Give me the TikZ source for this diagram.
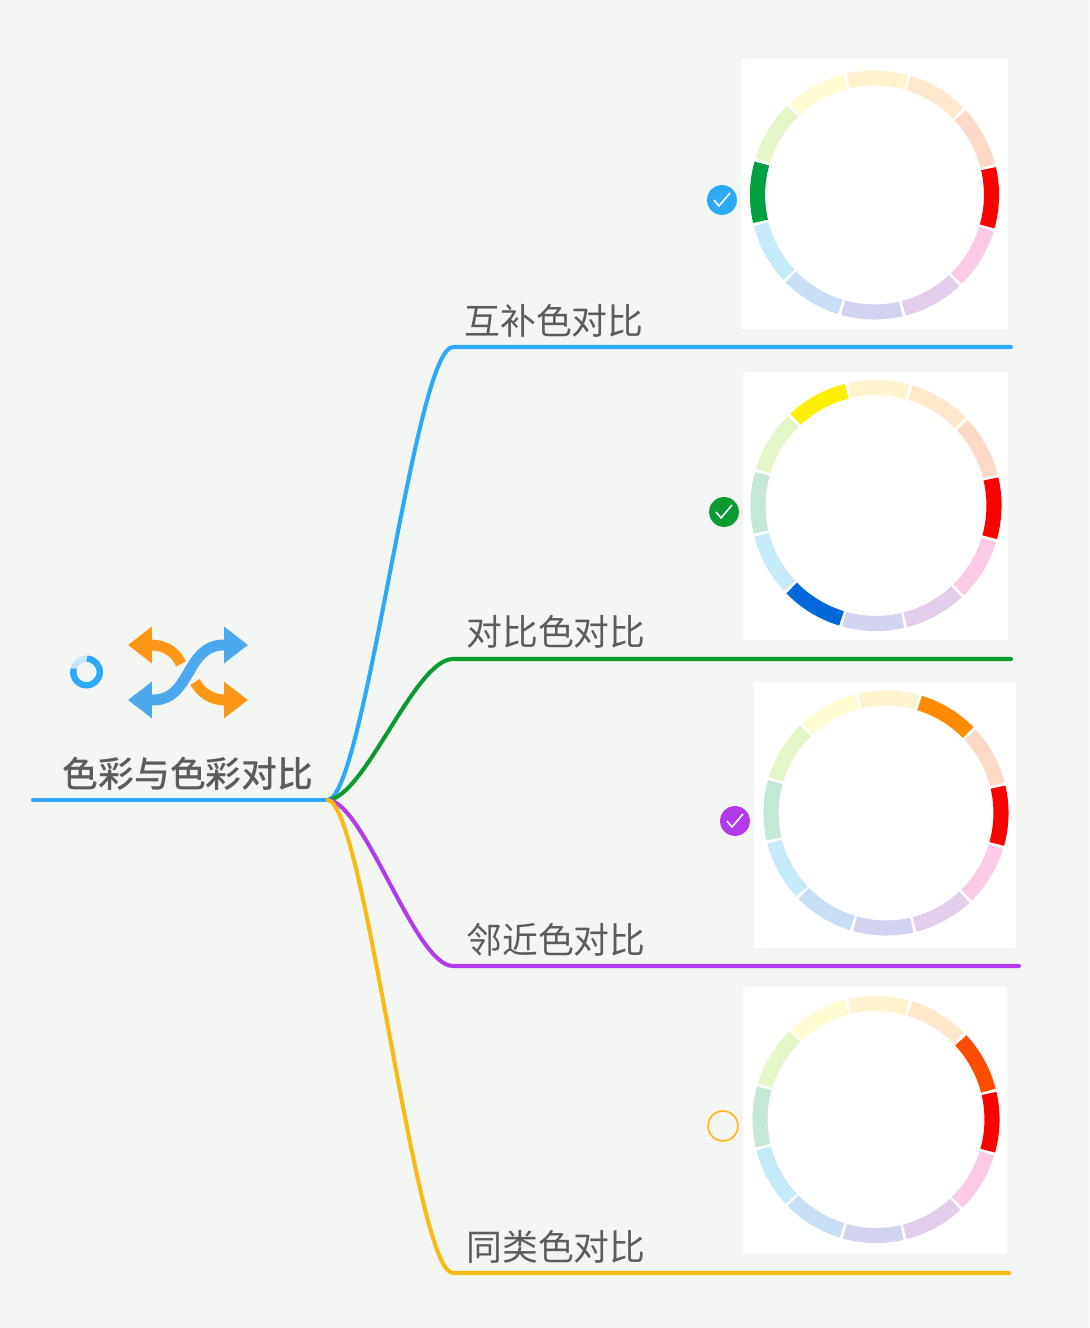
\documentclass[tikz,border=0pt]{standalone}
\usepackage{xcolor}
\usepackage{fontspec}
\setmainfont{Noto Sans CJK SC}
\newfontfamily\rootfont{Noto Sans CJK SC Medium}
\usepackage{tikz}
\usetikzlibrary{arrows.meta, positioning}

\definecolor{pagebg}{HTML}{F4F6F3}
\definecolor{labelgray}{HTML}{5C5C5C}
\definecolor{lineblue}{HTML}{2CA9F8}
\definecolor{linegreen}{HTML}{0A9A32}
\definecolor{linepurple}{HTML}{B13AEB}
\definecolor{lineyellow}{HTML}{FDB913}
\definecolor{iconorange}{HTML}{FF9716}
\definecolor{iconblue}{HTML}{4CA9EE}
\definecolor{ringpale}{HTML}{C9E6F9}
\definecolor{segA}{HTML}{FFF3D0}
\definecolor{segB}{HTML}{FFE8CC}
\definecolor{segC}{HTML}{FFD9C8}
\definecolor{segD}{HTML}{FF0000}
\definecolor{segE}{HTML}{FBCBE6}
\definecolor{segF}{HTML}{E2CEEA}
\definecolor{segG}{HTML}{D2D3EF}
\definecolor{segH}{HTML}{C8DEF5}
\definecolor{segI}{HTML}{C5EAF8}
\definecolor{segJ}{HTML}{C4E8D6}
\definecolor{segK}{HTML}{E5F7C8}
\definecolor{segL}{HTML}{FFFCD2}
\definecolor{hotgreen}{HTML}{00A040}
\definecolor{hotyellow}{HTML}{FFEE00}
\definecolor{hotblue}{HTML}{0068D8}
\definecolor{hotorange}{HTML}{FF8C00}
\definecolor{hotred}{HTML}{FF4D00}

% x, y, radius, then the segments that stand out
\newcommand{\colorwheel}[4]{
    \begin{scope}[shift={(#1,#2)}, rotate=-1.3]
    \foreach \ang/\col in {90/segA, 60/segB, 30/segC, 0/segD, -30/segE, -60/segF,
        -90/segG, -120/segH, -150/segI, 180/segJ, 150/segK, 120/segL, #4}
        \draw[wheelseg, \col] (\ang-14.3:#3) arc (\ang-14.3:\ang+14.3:#3);
    \end{scope}
}

\begin{document}
\begin{tikzpicture}[
        x=0.02cm, y=0.02cm,
        wheelseg/.style={line width=8.6pt},
        branch/.style={line width=2.3pt, line cap=round},
        title/.style={text=labelgray, inner sep=0pt, font=\fontsize{20.4}{24}\selectfont},
        badge/.style={circle, inner sep=0pt, minimum size=17pt},
        tick/.style={draw=white, line width=0.9pt},
        shaft/.style={line width=6.2pt},
        headtip/.style={-{Triangle[length=13.6pt, width=20pt]}},
        twotips/.style={{Triangle[length=13.6pt, width=20pt]}-{Triangle[length=13.6pt, width=20pt]}}
    ]
    \useasboundingbox[fill=pagebg] (0,0) rectangle (1089,1328);

    % white cards
    \fill[white] (741,999) rectangle (1008,1269);
    \fill[white] (743,688) rectangle (1008,956);
    \fill[white] (754,380) rectangle (1016,646);
    \fill[white] (743,74) rectangle (1007,341);

    % wheels
    \colorwheel{874.5}{1133}{117}{180/hotgreen}
    \colorwheel{876}{822.5}{118}{120/hotyellow, -120/hotblue}
    \colorwheel{886}{515}{115}{60/hotorange}
    \colorwheel{876}{208.5}{116}{30/hotred}

    % tree
    \coordinate (start) at (33,528);
    \coordinate (hub) at (328,528);
    \coordinate (bendA) at (453,981);
    \coordinate (bendB) at (453,669);
    \coordinate (bendC) at (453,362);
    \coordinate (bendD) at (453,55);
    \coordinate (endA) at (1011,981);
    \coordinate (endB) at (1011,669);
    \coordinate (endC) at (1019,362);
    \coordinate (endD) at (1009,55);

    \draw[branch, lineblue] (start) -- (hub);
    \draw[branch, lineblue] (hub) .. controls (365,533) and (415,981) .. (bendA) -- (endA);
    \draw[branch, linegreen] (hub) .. controls (365,531) and (415,669) .. (bendB) -- (endB);
    \draw[branch, linepurple] (hub) .. controls (365,525) and (415,362) .. (bendC) -- (endC);
    \draw[branch, lineyellow] (hub) .. controls (365,523) and (415,55) .. (bendD) -- (endD);

    % labels
    \node[title, font=\rootfont\fontsize{20.4}{24}\selectfont] (root) at (188,554) {色彩与色彩对比};
    \node[title] (labelA) at (554,1007) {互补色对比};
    \node[title] (labelB) at (556,696) {对比色对比};
    \node[title] (labelC) at (556,388) {邻近色对比};
    \node[title] (labelD) at (556,81) {同类色对比};

    % badges
    \node[badge, fill=lineblue] (badgeA) at (722,1128) {};
    \node[badge, fill=linegreen] (badgeB) at (724,816) {};
    \node[badge, fill=linepurple] (badgeC) at (735,507) {};
    \node[badge, draw=lineyellow, line width=0.9pt] (badgeD) at (723,202) {};
    \foreach \n in {badgeA, badgeB, badgeC}
        \draw[tick] ([shift={(-8,0)}]\n.center) -- ++(5,-6) -- ++(11,13);

    % progress ring
    \draw[ringpale, line width=3.6pt] (86.5,656) circle (13.3);
    \draw[lineblue, line width=3.6pt] (86.5,656) ++(88:13.3) arc (88:-195:13.3);

    % shuffle icon
    \draw[shaft, headtip, iconorange] (181,664) .. controls (176,676) and (165,683) .. (128,683);
    \draw[shaft, headtip, iconorange] (195,646) .. controls (202,634) and (212,628) .. (248,628);
    \draw[shaft, twotips, iconblue] (128,628) -- (153,628) .. controls (192,628) and (185,683) .. (224,683) -- (248,683);
\end{tikzpicture}
\end{document}
